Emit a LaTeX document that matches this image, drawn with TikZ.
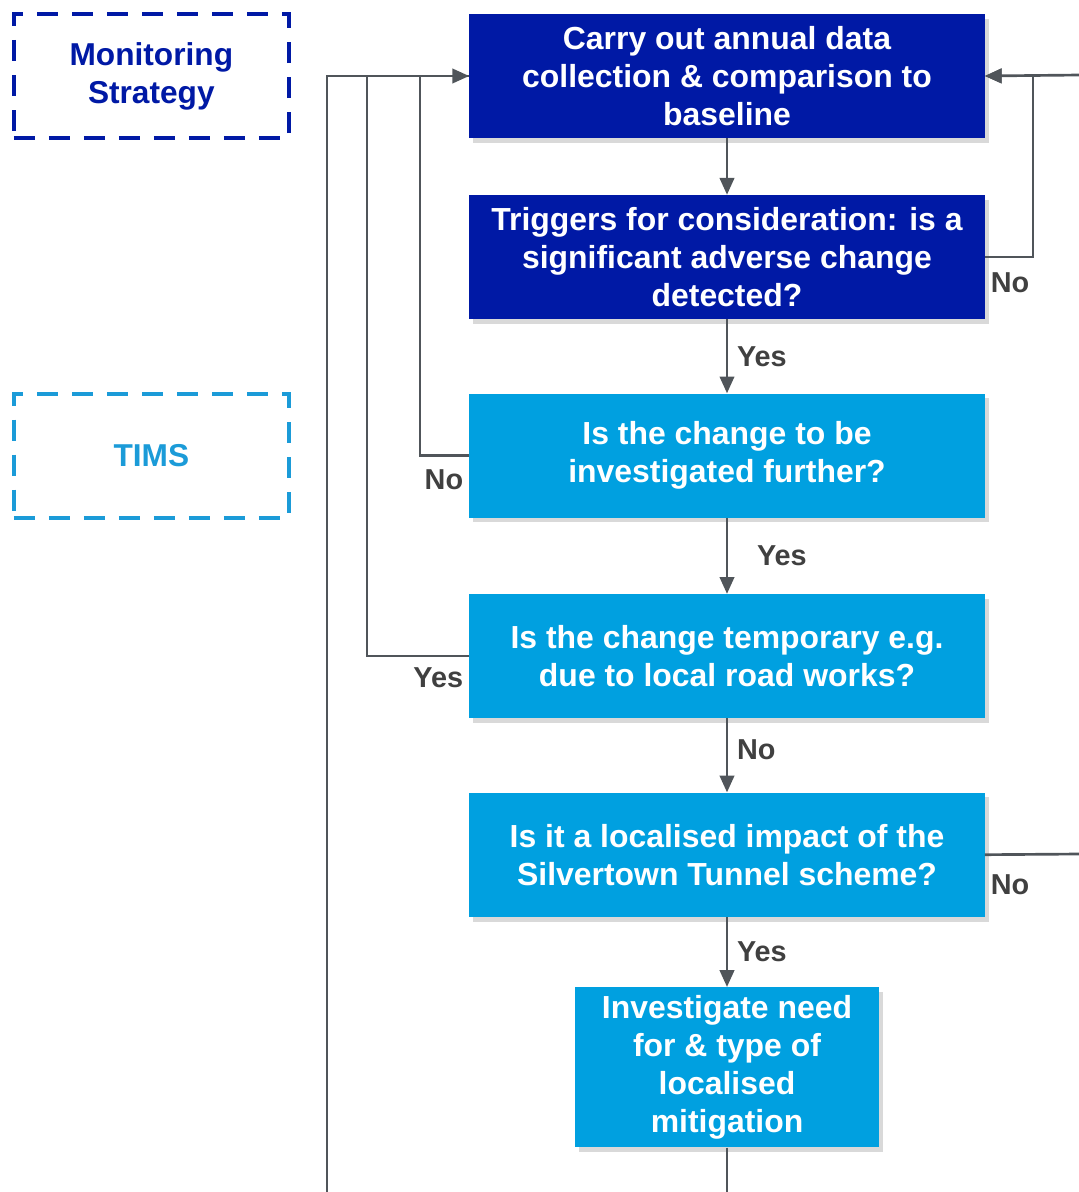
\documentclass[tikz,border=0pt]{standalone}
\usepackage{fontspec}
\setmainfont{Liberation Sans}
\usetikzlibrary{positioning,shadows,arrows.meta}
\definecolor{darkblue}{HTML}{0019A5}
\definecolor{lightblue}{HTML}{00A0E0}
\definecolor{linegray}{HTML}{50555A}
\definecolor{labelgray}{HTML}{404040}
\definecolor{timsblue}{HTML}{1B9BD8}
\tikzstyle{box}=[rectangle,draw=none,text=white,align=center,inner sep=0pt,
  minimum width=12.875cm,minimum height=3.1cm,
  font=\fontsize{22.7}{27}\selectfont\bfseries,
  drop shadow={shadow xshift=0.1cm,shadow yshift=-0.12cm,opacity=0.3}]
\tikzstyle{dbox}=[box,fill=darkblue]
\tikzstyle{lbox}=[box,fill=lightblue]
\tikzstyle{legend}=[rectangle,draw,line width=0.1cm,dash pattern=on 0.525cm off 0.35cm,
  align=center,minimum width=6.875cm,minimum height=3.1cm,
  font=\fontsize{22.5}{27}\selectfont\bfseries]
\tikzstyle{lbl}=[text=labelgray,font=\fontsize{20.5}{24}\selectfont\bfseries]

\begin{document}
\begin{tikzpicture}[x=0.025cm, y=-0.025cm, >={Triangle[length=0.42cm,width=0.36cm]},
    on grid]
  \useasboundingbox (0,0) rectangle (1079,1192);

  % main flow
  \node[dbox] at (727,76) (collect) {Carry out annual data\\collection \& comparison to\\baseline};
  \node[dbox, below=4.525cm of collect] (trigger) {Triggers for consideration: is a\\significant adverse change\\detected?};
  \node[lbox, below=4.9625cm of trigger] (invest) {Is the change to be\\investigated further?};
  \node[lbox, below=5.0125cm of invest] (temp) {Is the change temporary e.g.\\due to local road works?};
  \node[lbox, below=4.9625cm of temp] (local) {Is it a localised impact of the\\Silvertown Tunnel scheme?};
  \node[lbox, below=5.3125cm of local, minimum width=7.6cm, minimum height=4cm] (mitig) {Investigate need\\for \& type of\\localised\\mitigation};

  % legend
  \node[legend, draw=darkblue, text=darkblue, left=14.3875cm of collect] (ms) {Monitoring\\Strategy};
  \node[legend, draw=timsblue, text=timsblue, left=14.3875cm of invest] (tims) {TIMS};

  % free ends at the page edge
  \coordinate (rtop) at (1079,75);
  \coordinate (rlow) at (1079,854);
  \coordinate (lbot) at (327,1192);
  \coordinate (mbot) at (727,1192);

  \begin{scope}[draw=linegray, line width=1.9pt]
    \draw[->] (collect) -- (trigger);
    \draw[->] (trigger) -- node[lbl, right, xshift=0.1cm] {Yes} (invest);
    \draw[->] (invest) -- node[lbl, right, xshift=0.6cm] {Yes} (temp);
    \draw[->] (temp) -- node[lbl, right, xshift=0.1cm, yshift=0.15cm] {No} (local);
    \draw[->] (local) -- node[lbl, right, xshift=0.1cm] {Yes} (mitig);
    \draw (mitig) -- (mbot);

    \draw[->] (trigger.east) -- node[lbl, below right, pos=0, yshift=-0.25cm] {No} ++(48,0) |- (collect.east);
    \draw[->] (rtop) -- (collect.east);
    \draw (local.east) -- node[lbl, below right, pos=0, yshift=-0.35cm] {No} (rlow);

    \draw (invest.west) -- node[lbl, below left, pos=0, yshift=-0.2cm] {No} ++(-49,0) |- (collect.west);
    \draw (temp.west) -- node[lbl, below left, pos=0, yshift=-0.125cm] {Yes} ++(-102,0) |- (collect.west);
    \draw[->] (lbot) |- (collect.west);
  \end{scope}
\end{tikzpicture}
\end{document}
